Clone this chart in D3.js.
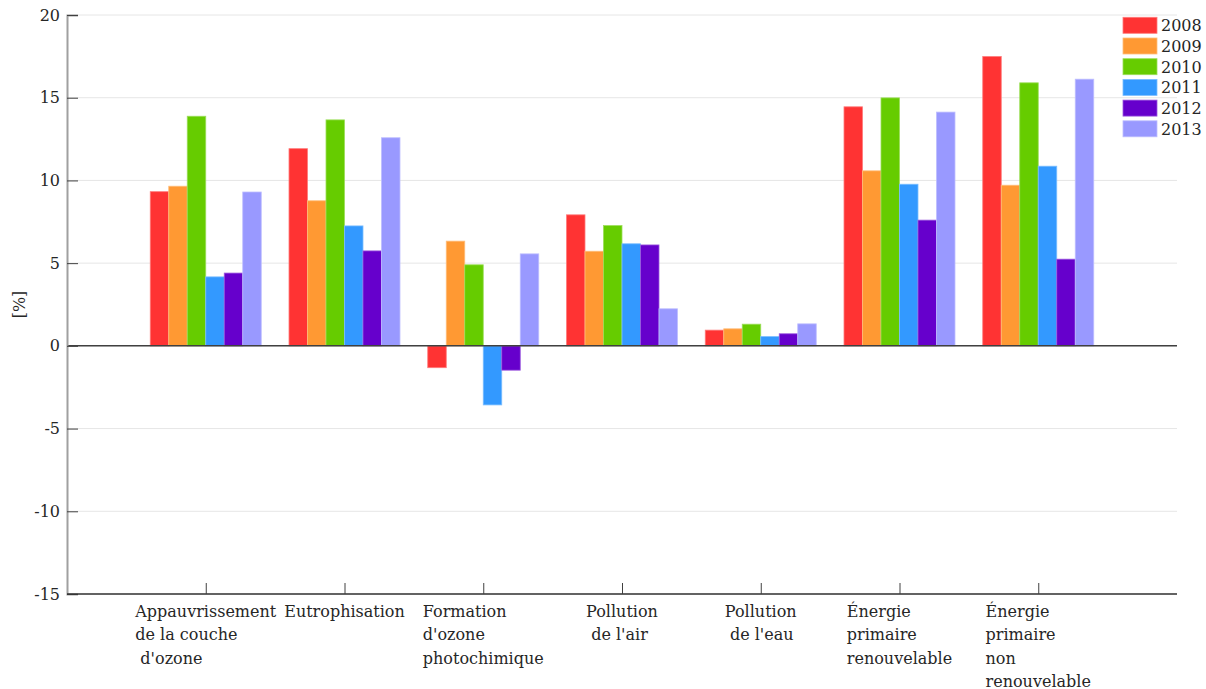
<!DOCTYPE html>
<html>
<head>
<meta charset="utf-8">
<script src="https://cdn.jsdelivr.net/npm/d3@7"></script>
<style>
body{margin:0;background:#fff;}
svg text{font-family:"DejaVu Serif",serif;fill:#262626;white-space:pre;}
</style>
</head>
<body>
<svg id="chart" width="1206" height="689"></svg>
<script>
const categories = [
  ["Appauvrissement","de la couche"," d'ozone"],
  ["Eutrophisation"],
  ["Formation","d'ozone","photochimique"],
  ["Pollution"," de l'air"],
  ["Pollution"," de l'eau"],
  ["Énergie","primaire","renouvelable"],
  ["Énergie","primaire","non","renouvelable"]
];
const years = ["2008","2009","2010","2011","2012","2013"];
const colors = ["#FF3333","#FF9933","#66CC00","#3399FF","#6600CC","#9999FF"];
const v2008 = [9.32, 11.92, -1.32, 7.92, 0.95, 14.45, 17.49];
const v2009 = [9.65, 8.77, 6.33, 5.72, 1.03, 10.58, 9.71];
const v2010 = [13.88, 13.66, 4.90, 7.27, 1.31, 14.99, 15.90];
const v2011 = [4.17, 7.25, -3.57, 6.17, 0.56, 9.77, 10.86];
const v2012 = [4.40, 5.74, -1.47, 6.10, 0.73, 7.60, 5.24];
const v2013 = [9.30, 12.58, 5.56, 2.24, 1.33, 14.13, 16.12];
const yTicks = [-15,-10,-5,0,5,10,15,20];
const series = [v2008, v2009, v2010, v2011, v2012, v2013];

const svg = d3.select("#chart");
const L = 67, R = 1177, T = 15, B = 594;
const x = d3.scaleLinear().domain([0, categories.length + 1]).range([L, R]);
const y = d3.scaleLinear().domain([-15, 20]).range([B, T]);
const groupW = 0.8;
const barW = groupW / years.length;

// gridlines
svg.append("g").selectAll("line").data(yTicks).join("line")
  .attr("x1", L).attr("x2", R)
  .attr("y1", d => y(d)).attr("y2", d => y(d))
  .attr("stroke", "#e6e6e6").attr("stroke-width", 1);

// bars
series.forEach((vals, si) => {
  const c = colors[si];
  const edge = d3.interpolateRgb(c, "#ffffff")(0.35);
  svg.append("g").selectAll("rect").data(vals).join("rect")
    .attr("x", (d, i) => x(i + 1 - groupW / 2 + si * barW))
    .attr("width", x(barW) - x(0))
    .attr("y", d => y(Math.max(0, d)))
    .attr("height", d => Math.abs(y(d) - y(0)))
    .attr("fill", c)
    .attr("stroke", edge).attr("stroke-width", 0.8);
});

// zero line
svg.append("line").attr("x1", L).attr("x2", R).attr("y1", y(0)).attr("y2", y(0))
  .attr("stroke", "#404040").attr("stroke-width", 1.5);

// y axis
const yAxis = d3.axisLeft(y).tickValues(yTicks).tickSize(-11).tickPadding(18).tickFormat(d3.format("d"));
const gy = svg.append("g").attr("transform", `translate(${L},0)`).call(yAxis);
gy.select(".domain").attr("stroke", "#a0a0a0").attr("stroke-width", 2);
gy.selectAll(".tick line").attr("stroke", "#404040");
gy.selectAll(".tick text").attr("font-size", 16).attr("font-family", "DejaVu Serif").attr("fill", "#262626")
  .attr("dx", 11).text(d => d < 0 ? "-" + Math.abs(d) : d);

// x axis
const xAxis = d3.axisBottom(x).tickValues(d3.range(1, categories.length + 1)).tickSize(-11).tickFormat("");
const gx = svg.append("g").attr("transform", `translate(0,${B})`).call(xAxis);
gx.select(".domain").attr("stroke", "#333").attr("stroke-width", 1.5).attr("d", `M${L},0H${R}`);
gx.selectAll(".tick line").attr("stroke", "#404040");

// category labels: left-aligned block centered on tick
categories.forEach((lines, i) => {
  const t = svg.append("text").attr("font-size", 16).attr("y", 617);
  lines.forEach((ln, k) => {
    t.append("tspan").attr("x", 0).attr("dy", k === 0 ? 0 : 23.3).text(ln);
  });
  let maxW = 0;
  t.selectAll("tspan").each(function(){ maxW = Math.max(maxW, this.getComputedTextLength()); });
  const left = x(i + 1) - maxW / 2;
  t.selectAll("tspan").attr("x", left);
});

// y label
svg.append("text").attr("font-size", 16).attr("text-anchor", "middle")
  .attr("transform", `translate(25,${(T + B) / 2}) rotate(-90)`).text("[%]");

// legend
const lg = svg.append("g");
years.forEach((yr, i) => {
  const yy = 17.3 + i * 20.7;
  lg.append("rect").attr("x", 1123).attr("y", yy).attr("width", 34).attr("height", 16)
    .attr("fill", colors[i]).attr("stroke", d3.interpolateRgb(colors[i], "#fff")(0.35)).attr("stroke-width", 0.8);
  lg.append("text").attr("x", 1161).attr("y", yy + 14).attr("font-size", 16).text(yr);
});
</script>
</body>
</html>
